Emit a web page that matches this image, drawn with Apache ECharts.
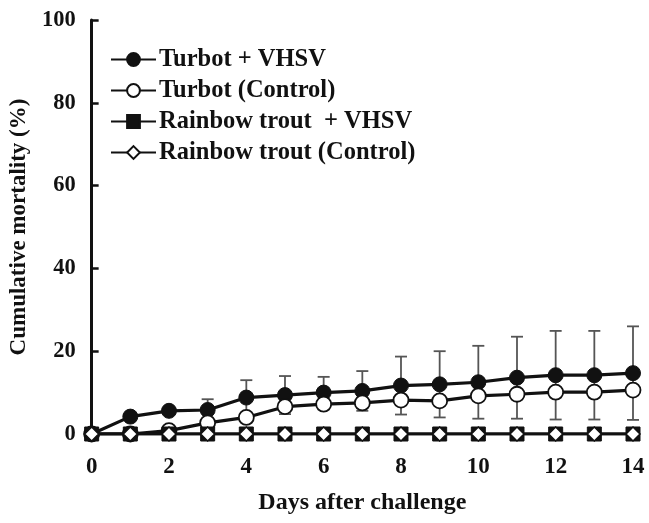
<!DOCTYPE html>
<html>
<head>
<meta charset="utf-8">
<script src="https://cdn.jsdelivr.net/npm/echarts@6/dist/echarts.min.js"></script>
<style>html,body{margin:0;padding:0;background:#fff}#c{width:649px;height:523px}</style>
</head>
<body>
<div id="c"></div>
<script>
var days = [0,1,2,3,4,5,6,7,8,9,10,11,12,13,14];
var seriesNames = ['Turbot + VHSV', 'Turbot (Control)', 'Rainbow trout  + VHSV', 'Rainbow trout (Control)'];
var turbotVHSV = [0, 4.2, 5.6, 5.8, 8.8, 9.4, 10.0, 10.4, 11.7, 12.0, 12.5, 13.6, 14.2, 14.2, 14.7];
var turbotVHSVsd = [0, 0, 0, 2.6, 4.2, 4.6, 3.8, 4.8, 7.0, 8.0, 8.8, 9.9, 10.7, 10.7, 11.3];
var turbotControl = [0, 0, 0.8, 2.7, 4.0, 6.6, 7.2, 7.5, 8.2, 8.0, 9.2, 9.6, 10.1, 10.1, 10.6];
var troutVHSV = [0,0,0,0,0,0,0,0,0,0,0,0,0,0,0];
var troutControl = [0,0,0,0,0,0,0,0,0,0,0,0,0,0,0];
var yTicks = [0, 20, 40, 60, 80, 100];
var xTicks = [0, 2, 4, 6, 8, 10, 12, 14];

function pairs(vals){ return days.map(function(d,i){ return [d, vals[i]]; }); }
var errData = days.map(function(d,i){ return [d, turbotVHSV[i] - turbotVHSVsd[i], turbotVHSV[i] + turbotVHSVsd[i]]; })
  .filter(function(r){ return r[2] > r[1]; });

var FONT = '"Liberation Serif", "Times New Roman", serif';
var chart = echarts.init(document.getElementById('c'), null, {renderer: 'canvas'});
var lineStyle = {color: '#111', width: 3.2};
chart.setOption({
  animation: false,
  backgroundColor: '#fff',
  grid: {left: 89, right: 16, top: 20, bottom: 89, containLabel: false},
  legend: {
    orient: 'vertical', left: 105, top: 42, itemWidth: 45, itemHeight: 16, itemGap: 6,
    textStyle: {fontFamily: FONT, fontWeight: 'bold', fontSize: 24.5, color: '#111', padding: [0,0,0,-2]},
    data: seriesNames
  },
  xAxis: {
    type: 'value', min: 0, max: 14, interval: 2,
    axisLine: {show: false}, axisTick: {show: false}, splitLine: {show: false},
    axisLabel: {fontFamily: FONT, fontWeight: 'bold', fontSize: 23, color: '#111', margin: 22,
      formatter: function(v){ return xTicks.indexOf(v) >= 0 ? String(v) : ''; }},
    name: 'Days after challenge', nameLocation: 'middle', nameGap: 57,
    nameTextStyle: {fontFamily: FONT, fontWeight: 'bold', fontSize: 24, color: '#111'}
  },
  yAxis: {
    type: 'value', min: 0, max: 100, interval: 20,
    axisLine: {show: true, lineStyle: {color: '#111', width: 3}},
    axisTick: {show: true, inside: true, length: 7, lineStyle: {color: '#111', width: 2.5}},
    splitLine: {show: false},
    axisLabel: {fontFamily: FONT, fontWeight: 'bold', fontSize: 22.5, color: '#111', margin: 16,
      formatter: function(v){ return yTicks.indexOf(v) >= 0 ? String(v) : ''; }},
    name: 'Cumulative mortality (%)', nameLocation: 'middle', nameGap: 52, nameRotate: 90,
    nameTextStyle: {fontFamily: FONT, fontWeight: 'bold', fontSize: 23, color: '#111'}
  },
  series: [
    {
      type: 'custom', name: 'err', z: 1, silent: true,
      data: errData,
      renderItem: function(params, api){
        var x = api.value(0);
        var lo = api.coord([x, api.value(1)]);
        var hi = api.coord([x, api.value(2)]);
        var cw = 6;
        var st = {stroke: '#555', lineWidth: 1.8};
        return {type: 'group', children: [
          {type: 'line', shape: {x1: lo[0], y1: lo[1], x2: hi[0], y2: hi[1]}, style: st},
          {type: 'line', shape: {x1: hi[0]-cw, y1: hi[1], x2: hi[0]+cw, y2: hi[1]}, style: st},
          {type: 'line', shape: {x1: lo[0]-cw, y1: lo[1], x2: lo[0]+cw, y2: lo[1]}, style: st}
        ]};
      }
    },
    {
      type: 'line', name: seriesNames[0], z: 2, data: pairs(turbotVHSV),
      symbol: 'circle', symbolSize: 15, showAllSymbol: true,
      lineStyle: lineStyle, itemStyle: {color: '#111', borderColor: '#111', borderWidth: 1}
    },
    {
      type: 'line', name: seriesNames[1], z: 3, data: pairs(turbotControl),
      symbol: 'circle', symbolSize: 15, showAllSymbol: true,
      lineStyle: lineStyle, itemStyle: {color: '#fff', borderColor: '#111', borderWidth: 1.8}
    },
    {
      type: 'line', name: seriesNames[2], z: 4, data: pairs(troutVHSV),
      symbol: 'rect', symbolSize: 14, showAllSymbol: true,
      lineStyle: lineStyle, itemStyle: {color: '#111', borderColor: '#111', borderWidth: 1}
    },
    {
      type: 'line', name: seriesNames[3], z: 5, data: pairs(troutControl),
      symbol: 'diamond', symbolSize: [14, 14], showAllSymbol: true,
      lineStyle: lineStyle, itemStyle: {color: '#fff', borderColor: '#111', borderWidth: 1.5}
    }
  ]
});
</script>
</body>
</html>
